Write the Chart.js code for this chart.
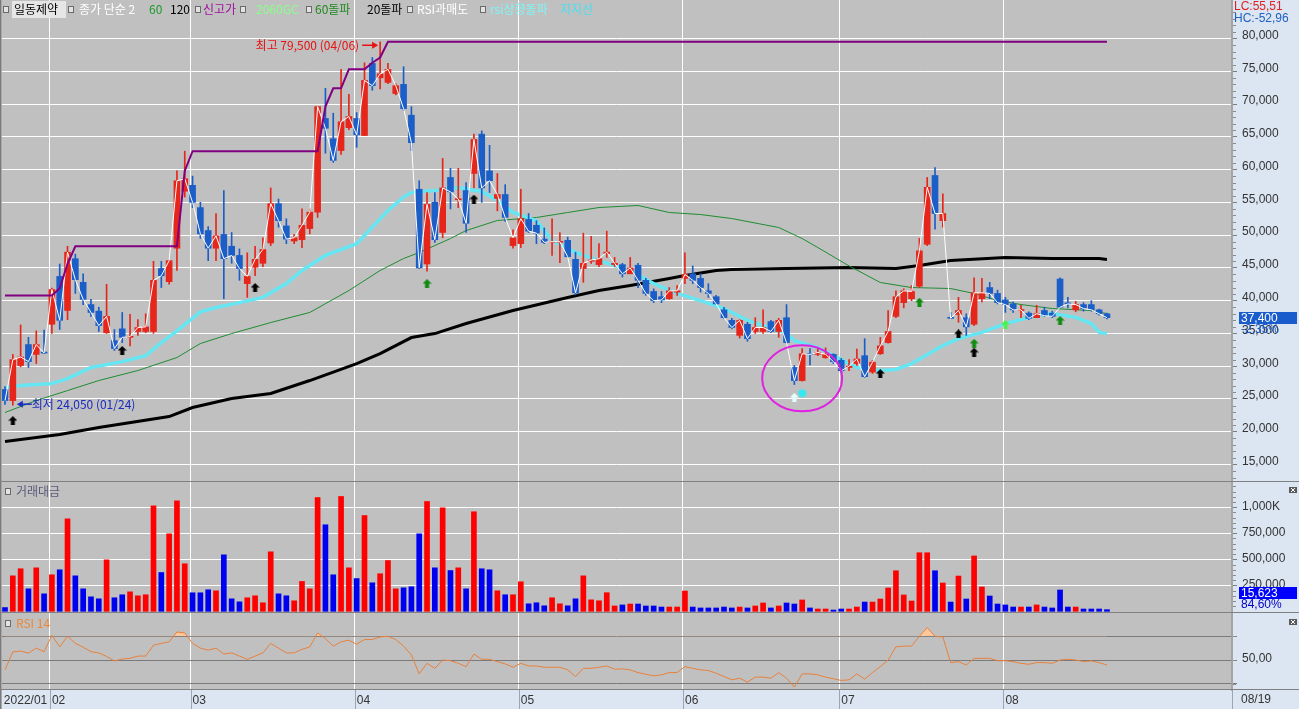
<!DOCTYPE html>
<html><head><meta charset="utf-8"><title>일동제약</title>
<script src="https://cdn.jsdelivr.net/npm/chart.js@4.4.1/dist/chart.umd.min.js"></script>
<style>
html,body{margin:0;padding:0;background:#c0c0c0;overflow:hidden;}
#wrap{position:relative;width:1299px;height:709px;background:#c0c0c0;}
#wrap canvas{position:absolute;left:0;}
</style></head>
<body><div id="wrap">
<canvas id="cPrice" width="1299" height="482" style="top:0px;width:1299px;height:482px"></canvas>
<canvas id="cVol" width="1299" height="131" style="top:482px;width:1299px;height:131px"></canvas>
<canvas id="cRsi" width="1299" height="96" style="top:613px;width:1299px;height:96px"></canvas>
</div>
<script>
// ---------------- DATA ----------------
const monthStartIdx = [0,6,24,45,66,87,107,128];
const monthLabels = ['2022/01','02','03','04','05','06','07','08'];
const lastDateLabel = '08/19';

const opens = [26450,24750,30100,33300,31800,32100,36400,43700,38500,46400,
42800,39400,38400,35100,33900,35700,34400,35300,35300,35300,
44900,42900,48000,56700,57600,54200,50700,48000,50100,48300,
46900,42600,45100,45700,48800,54800,51400,49100,49300,51000,
53500,67800,64700,62900,66400,67800,65200,76200,74000,73300,
71600,73000,68300,57000,45600,55000,50400,58800,55400,56800,
59400,65400,59800,55600,56200,48400,48700,52400,51500,49400,
48900,48900,49200,46300,44900,46000,45500,47200,45500,45500,
44100,45400,43100,41400,40600,40300,41300,43400,44100,43400,
41500,40600,38600,37000,34700,36400,35300,35300,36800,35300,
37400,29800,27800,31900,31800,31300,31800,30900,29800,30400,
31600,29100,31900,33600,37600,39700,40300,42200,48600,59100,
52200,37400,37900,37400,36400,40300,42000,41100,40100,39500,
38500,38100,37400,38500,38100,43300,39600,38600,39400,39400,
38600,38000];
const highs = [26900,31800,36300,34400,35400,35500,41900,45600,48300,47100,
44100,40200,39000,42500,35600,38200,37900,37100,38000,46000,
46000,46200,59800,62800,59000,55000,51300,53300,56800,50400,
47900,47300,48300,49600,57200,55500,52500,50100,54000,54000,
69600,72400,68600,75300,71500,68700,76300,77100,79500,76200,
73100,75700,69600,58300,56500,56500,61700,60200,60200,58000,
65400,65900,63700,59400,57700,50800,57000,53300,52200,51100,
52500,50400,49700,47400,50300,49800,48700,50600,46600,45700,
46600,45700,43400,41800,41400,42000,42300,47300,45300,44100,
42600,40800,39000,37300,37100,36700,37400,38600,37000,37300,
39400,30100,32700,32700,32700,32800,31900,31200,31000,32600,
34200,30900,34400,38500,41500,41800,42300,49500,58800,60300,
56300,38200,40500,38000,43500,43400,42800,41600,40500,39800,
39300,38300,39300,39000,38400,43500,40500,39900,39700,40000,
38700,38100];
const lows = [24150,24050,29900,29800,30400,31900,35000,35600,37100,41100,
39400,37600,35300,35000,32400,33600,33100,34700,35100,35000,
42000,42500,44600,55800,54200,49500,46100,46100,40300,45700,
43100,40500,43800,45200,48400,51200,48700,48700,48100,50200,
52700,62500,61100,62300,66100,63400,65200,72100,72300,73100,
71400,69000,62900,44900,44500,48900,49600,54000,54200,50400,
57200,55000,56500,53700,52100,48000,48100,50400,48700,48700,
46900,45800,46600,40900,42800,45700,45200,46600,45200,43600,
44100,42000,40800,39700,39700,40200,40800,42600,42600,41300,
40500,39500,37300,35700,34300,33800,35000,35000,35100,34400,
33500,27200,27700,30200,31600,31200,30400,29000,29300,30100,
28300,28900,31800,33500,37400,38900,40000,42000,48400,50900,
51200,37300,36700,34700,36200,39800,40300,39500,38200,38200,
37400,37100,37400,37600,37400,38900,38900,38300,38400,38400,
37800,37200];
const closes = [24760,31000,31400,30700,33300,32000,41700,37000,47400,43200,
40200,38200,36200,37600,32700,34400,34500,35900,36000,43100,
43800,46100,58300,58600,55000,50200,48000,49900,46400,46900,
44900,43700,46300,47800,54800,52200,49400,49600,51500,53500,
69600,66300,61400,67300,68100,65300,73600,72800,74600,75300,
72800,69300,64100,45000,54700,49300,57200,56600,55500,51800,
64600,57200,58300,56200,52700,49600,52500,50600,50300,48900,
49000,49000,46700,41200,45700,46200,46400,47400,45700,44100,
45000,43100,41100,40000,40100,41500,41500,44000,43100,42000,
41100,39500,37400,35900,37000,34200,35900,35900,35300,37000,
33600,27800,31900,31800,32100,31800,30700,29300,30000,31100,
28400,30600,33100,35300,40600,41500,41400,47600,57300,53300,
53300,37300,38500,36000,41200,41200,41100,39700,39400,38600,
38600,37300,38000,37700,37600,39000,39500,39400,38800,38600,
38000,37400];
const volumes = [36000,341000,409000,216000,418000,168000,351000,399000,889000,341000,
216000,139000,120000,495000,130000,159000,187000,149000,159000,1014000,
373000,745000,1062000,457000,178000,178000,207000,197000,543000,120000,
91000,130000,149000,82000,572000,168000,149000,101000,287000,216000,
1094000,832000,351000,1104000,418000,315000,921000,274000,361000,488000,
216000,226000,236000,745000,1056000,418000,995000,392000,418000,216000,
957000,409000,399000,197000,159000,159000,284000,72000,82000,53000,
130000,72000,53000,120000,341000,110000,101000,179000,51000,61000,
70000,70000,51000,51000,41000,41000,41000,195000,41000,32000,
32000,32000,41000,32000,41000,32000,51000,80000,32000,51000,
80000,70000,109000,32000,22000,22000,12000,22000,22000,41000,
89000,89000,118000,224000,390000,157000,99000,563000,563000,390000,
272000,89000,339000,118000,532000,234000,147000,70000,61000,41000,
41000,41000,61000,41000,32000,205000,41000,41000,22000,22000,
22000,15623];
const rsi14 = [41.7,56.9,57.5,55.8,60,57,70.8,61,70,64,
60.8,57,56,53,49.2,50.8,51.4,53.3,53.3,62.5,
64,65.3,73.6,72.8,64,60,58.3,60,55,56,
53.3,50.6,53.3,56,64,60,56,56,59,61,
72.8,68,61.7,65.3,66.7,63.3,67.2,67.2,69.4,70,
67.2,61.7,54.2,38.3,47.2,43,50,49.4,47.2,44.4,
55,50.6,50.6,48.6,46.7,43.9,47.2,45,45,43.9,
43.9,43.9,41.7,36.1,43,43,43.9,45,42.2,42.5,
41.7,39.4,38,36.7,37.5,39.4,39.4,44.4,43,41.7,
41.1,38.9,36.1,33.3,34.7,31.4,35.6,35.6,34.7,39.4,
34.7,27.2,38.3,38.3,37.5,35.6,34.2,32.8,33.3,38.3,
33.9,39.4,44.4,50,61.1,61.7,61.7,70,77.2,70,
69.4,47.8,48.6,45.8,51.4,51.4,51.4,49.4,49.4,48.6,
47.2,46.4,47.8,47.8,47.2,50,50.6,50,48.6,49.2,
47.8,45.8];

// indicator lines: [index, price]
const ma120Line = [[0,18500],[7,19570],[12,20640],[21,22320],[24,23690],[29,25060],[34,25830],[39,27810],[45,30400],[48,31930],[52,34370],[55,34980],[59,36510],[65,38490],[72,40470],[76,41540],[80,42310],[85,43380],[87,43840],[91,44600],[93,44750],[100,44900],[108,45050],[114,44900],[117,45360],[121,46120],[128,46580],[134,46430],[140,46430],[141,46270]];
const ma60Line = [[0,22930],[4,24760],[8,26280],[12,27810],[17,29340],[22,31320],[25,33460],[29,34980],[34,36660],[39,38200],[44,41540],[48,44600],[51,46430],[53,47340],[57,49480],[59,50700],[63,52230],[68,52690],[72,53450],[76,54210],[81,54520],[85,53450],[89,53140],[93,52530],[99,51160],[102,49480],[104,48110],[108,45300],[112,42770],[116,42000],[121,41850],[124,41090],[127,40020],[130,39410],[134,38800],[139,38490],[141,38030]];
const supportLine = [[0,26740],[2,27050],[6,27350],[8,28100],[11,29800],[15,30700],[18,31600],[20,33600],[22,35400],[25,38300],[27,38950],[30,39700],[33,40500],[36,42600],[38,44600],[41,46900],[45,48700],[49,53750],[51,55800],[52,56500],[55,56800],[58,57250],[61,56650],[63,55300],[65,53450],[68,52200],[70,49200],[73,47350],[76,46100],[80,44600],[83,42600],[86,41100],[89,40000],[92,38800],[95,37000],[100,35000],[101,33900],[104,32850],[107,31000],[109,29800],[112,29350],[114,29500],[116,30400],[120,33150],[122,34200],[125,35150],[128,36500],[132,37750],[134,38050],[137,37450],[139,36500],[140,35150],[141,35000]];
const newHighLine = [[0,40800],[6,40800],[7,41900],[8,45600],[9,48300],[22,48300],[23,59800],[24,62800],[40,62800],[41,69600],[42,72400],[43,72400],[44,75300],[46,75300],[47,76300],[48,77100],[49,79500],[141,79500]];

// signal markers
const signalIdx   = [1,15,32,60,54,101,102,112,117,122,124,124,128,135];
const signalPrice = [21700,32400,42000,55500,42600,25250,25880,28880,39760,34930,33500,32130,36360,36970];
const signalKind  = ['black','black','black','black','green','white','dot','black','green','black','green','black','lime','green'];

const priceTicks = [15000,20000,25000,30000,35000,40000,45000,50000,55000,60000,65000,70000,75000,80000];
const volTicks = [250000,500000,750000,1000000];
const volTickLabels = ['250,000','500,000','750,000','1,000K'];
const rsiTicks = [30,50,70];
const rsiTickLabels = ['','50,00',''];

const highMark = {idx:48, price:79500, text:'최고 79,500 (04/06)'};
const lowMark  = {idx:1,  price:24050, text:'최저 24,050 (01/24)'};
const circleMark = {idx:102, price:28150};

// ---------------- LAYOUT / STYLE ----------------
const X_MIN = -0.384, X_MAX = 157.0;
const P_MIN = 12330, P_MAX = 85874;
const V_MIN = -16346, V_MAX = 1243269;
const R_MIN = 24.74, R_MAX = 89.58;
const AXIS_W = 67;
const UP = '#e6261a', DOWN = '#1c5ec8';
const NUMFONT = '"Liberation Sans", Arial, sans-serif';
const KFONT = '"Noto Sans CJK KR", "Noto Sans", sans-serif';

const idx = closes.map((_, i) => i);
const isUp = i => closes[i] >= opens[i];
const candleColors = idx.map(i => isUp(i) ? UP : DOWN);
const volColors = idx.map(i => isUp(i) ? '#ff0000' : '#0000f0');
const toPts = arr => arr.map(p => ({x:p[0], y:p[1]}));

function xAxis(showLabels){
  return {
    type:'linear', position:'bottom', min:X_MIN, max:X_MAX, offset:false,
    afterBuildTicks: s => { s.ticks = monthStartIdx.map(v => ({value: v === 0 ? -0.4 : v - 0.25})); },
    afterFit: s => { s.height = showLabels ? 19 : 0; s.paddingLeft = 0; s.paddingRight = 0; },
    grid:{ color: c => (c.index === 0 ? 'rgba(0,0,0,0)' : '#ffffff'), lineWidth:1, drawTicks:false, offset:false },
    border:{display:false},
    ticks:{ display:showLabels, autoSkip:false, maxRotation:0, minRotation:0, align:'start', labelOffset:2, padding:3,
      color:'#333333', font:{family:NUMFONT, size:12}, callback:(v,i) => monthLabels[i] }
  };
}
function yAxis(min, max, ticks, labels, gridColor, labelOffset){
  return {
    type:'linear', position:'right', min, max,
    afterBuildTicks: s => { s.ticks = ticks.map(v => ({value:v})); },
    afterFit: s => { s.width = AXIS_W; s.paddingTop = 0; s.paddingBottom = 0; },
    grid:{ color:gridColor, lineWidth:1, drawTicks:true, tickLength:5, tickColor:'#7c7c7c' },
    border:{ display:true, color:'#a4a4a4', width:2 },
    ticks:{ autoSkip:false, padding:5, labelOffset, color:'#333333', font:{family:NUMFONT, size:12},
      callback:(v,i) => labels[i] }
  };
}

const axisBg = {
  id:'axisBg',
  beforeDraw(chart){
    const {ctx, chartArea:a, width, height} = chart;
    ctx.save();
    ctx.fillStyle = '#dce6f2';
    ctx.fillRect(a.right, 0, width - a.right, height);
    if (height - a.bottom > 1) ctx.fillRect(0, a.bottom, width, height - a.bottom);
    ctx.fillStyle = '#7a7a7a'; ctx.fillRect(0, 0, 1, height);
    ctx.fillStyle = '#a8a8a8'; ctx.fillRect(1, 0, 1, height);
    ctx.restore();
  }
};
function minorTicks(step, major){
  return { id:'minor', afterDraw(chart){
    const s = chart.scales.y, ctx = chart.ctx;
    ctx.save(); ctx.strokeStyle = '#8a8a8a'; ctx.lineWidth = 1;
    for (let v = Math.ceil(s.min/step)*step; v <= s.max; v += step){
      if (Math.abs(v % major) < 1e-6) continue;
      const y = Math.round(s.getPixelForValue(v)) + 0.5;
      ctx.beginPath(); ctx.moveTo(s.left + 1, y); ctx.lineTo(s.left + 4, y); ctx.stroke();
    }
    ctx.restore();
  }};
}
function drawBoxIcon(ctx, x, y){
  ctx.fillStyle = '#e2e2e2'; ctx.fillRect(x, y, 5, 6);
  ctx.strokeStyle = '#6a6a6a'; ctx.lineWidth = 1; ctx.strokeRect(x + 0.5, y + 0.5, 5, 6);
}
function drawCloseIcon(ctx, x, y){
  ctx.fillStyle = '#5a5a5a'; ctx.fillRect(x, y, 8, 6);
  ctx.strokeStyle = '#ffffff'; ctx.lineWidth = 1;
  ctx.beginPath(); ctx.moveTo(x+2, y+1); ctx.lineTo(x+6, y+5); ctx.moveTo(x+6, y+1); ctx.lineTo(x+2, y+5); ctx.stroke();
}
function separator(ctx, y, w){
  ctx.fillStyle = '#808080'; ctx.fillRect(0, y, w, 1);
}

// marker images
function arrowImg(color){
  const c = document.createElement('canvas'); c.width = 9; c.height = 9;
  const g = c.getContext('2d'); g.fillStyle = color;
  g.beginPath(); g.moveTo(4.5,0); g.lineTo(9,4.5); g.lineTo(6.5,4.5); g.lineTo(6.5,9); g.lineTo(2.5,9); g.lineTo(2.5,4.5); g.lineTo(0,4.5); g.closePath(); g.fill();
  return c;
}
function dotImg(color){
  const c = document.createElement('canvas'); c.width = 9; c.height = 9;
  const g = c.getContext('2d'); g.fillStyle = color;
  g.beginPath(); g.arc(4.5,4.5,4,0,Math.PI*2); g.fill();
  return c;
}
const markerStyles = {black:arrowImg('#000000'), green:arrowImg('#118a11'), lime:arrowImg('#4cf04c'), white:arrowImg('#e6ffff'), dot:dotImg('#38e8f0')};

// ---------------- PRICE CHART ----------------
const legendItems = [
  ['box',3], ['일동제약',14,'#000000'], ['box',68], ['종가 단순 2',79,'#ffffff'], ['60',149,'#1a9a2a'], ['120',170,'#000000'],
  ['box',195], ['신고가',203,'#a010a0'], ['box',240], ['2060GC',256,'#88ff88'], ['box',306], ['60돌파',315,'#1e8a1e'],
  ['20돌파',367,'#000000'], ['box',407], ['RSI과매도',417,'#ffffff'], ['box',480], ['rsi상향돌파',490,'#80f4f4'], ['지지선',560,'#4ae0f0']
];
const priceDecor = {
  id:'priceDecor',
  afterDatasetsDraw(chart){
    const {ctx, scales:{x, y}} = chart;
    ctx.save();
    // ellipse
    const cx = x.getPixelForValue(circleMark.idx), cy = y.getPixelForValue(circleMark.price);
    ctx.strokeStyle = '#e020e0'; ctx.lineWidth = 2;
    ctx.beginPath(); ctx.ellipse(cx, cy, 40, 33, 0, 0, Math.PI*2); ctx.stroke();
    // high label
    ctx.font = '12px ' + KFONT; ctx.textBaseline = 'middle';
    let px = x.getPixelForValue(highMark.idx), py = y.getPixelForValue(highMark.price) + 3.5;
    ctx.strokeStyle = '#e81010'; ctx.fillStyle = '#e81010'; ctx.lineWidth = 1.5;
    ctx.beginPath(); ctx.moveTo(px - 18, py); ctx.lineTo(px - 7, py); ctx.stroke();
    ctx.beginPath(); ctx.moveTo(px - 8, py - 3.5); ctx.lineTo(px - 2, py); ctx.lineTo(px - 8, py + 3.5); ctx.closePath(); ctx.fill();
    ctx.textAlign = 'right'; ctx.fillText(highMark.text, px - 21, py);
    // low label
    px = x.getPixelForValue(lowMark.idx); py = y.getPixelForValue(lowMark.price) - 1;
    ctx.strokeStyle = '#1a2cc0'; ctx.fillStyle = '#1a2cc0';
    ctx.beginPath(); ctx.moveTo(px + 9, py); ctx.lineTo(px + 19, py); ctx.stroke();
    ctx.beginPath(); ctx.moveTo(px + 4, py); ctx.lineTo(px + 10, py - 3.5); ctx.lineTo(px + 10, py + 3.5); ctx.closePath(); ctx.fill();
    ctx.textAlign = 'left'; ctx.fillText(lowMark.text, px + 19, py);
    ctx.restore();
  },
  afterDraw(chart){
    const {ctx, scales:{y}, width} = chart;
    ctx.save();
    // legend
    ctx.fillStyle = '#e6e6e6'; ctx.fillRect(12, 1, 54, 17);
    ctx.font = '12px ' + KFONT; ctx.textBaseline = 'middle'; ctx.textAlign = 'left';
    legendItems.forEach(it => {
      if (it[0] === 'box') { drawBoxIcon(ctx, it[1], 6); return; }
      ctx.fillStyle = it[2]; ctx.fillText(it[0], it[1], 9.5);
    });
    // right axis texts
    ctx.font = '12px ' + NUMFONT;
    ctx.fillStyle = '#e02020'; ctx.fillText('LC:55,51', 1234, 7);
    ctx.fillStyle = '#2060c0'; ctx.fillText('HC:-52,96', 1234, 19);
    const last = closes[closes.length - 1];
    const ly = y.getPixelForValue(last);
    ctx.fillStyle = '#1a5ccc'; ctx.fillRect(1239, Math.round(ly) - 6, 58, 12);
    ctx.fillStyle = '#ffffff'; ctx.fillText(last.toLocaleString('en-US'), 1241, ly + 0.5);
    ctx.fillStyle = '#1a5ccc'; ctx.fillText('-2,35%', 1241, ly + 12);
    separator(ctx, 481, width);
    ctx.restore();
  }
};

new Chart(document.getElementById('cPrice'), {
  type:'bar',
  data:{ datasets:[
    { type:'line', data:toPts(ma120Line), borderColor:'#000000', borderWidth:3, pointRadius:0, tension:0, fill:false, order:10 },
    { type:'line', data:toPts(ma60Line), borderColor:'#1e8c32', borderWidth:1, pointRadius:0, tension:0, fill:false, order:9 },
    { type:'line', data:toPts(supportLine), borderColor:'#66e6f2', borderWidth:3.5, pointRadius:0, tension:0, fill:false, order:8 },
    { type:'bar', data:idx.map(i => ({x:i, y:[lows[i], highs[i]]})), backgroundColor:candleColors, barThickness:1, grouped:false, order:6 },
    { type:'bar', data:idx.map(i => ({x:i, y:[opens[i], closes[i]]})), backgroundColor:candleColors, barThickness:6, minBarLength:1, grouped:false, order:5 },
    { type:'line', data:idx.map(i => ({x:i, y:closes[i]})), borderColor:'#ffffff', borderWidth:1, pointRadius:0, tension:0, fill:false, order:4 },
    { type:'line', data:toPts(newHighLine), borderColor:'#800080', borderWidth:2, pointRadius:0, tension:0, fill:false, order:3 },
    { type:'line', data:signalIdx.map((v,i) => ({x:v, y:signalPrice[i]})), showLine:false, pointRadius:4,
      pointStyle:signalKind.map(k => markerStyles[k]), order:0 }
  ]},
  options:{
    responsive:false, animation:false, devicePixelRatio:1, events:[],
    layout:{ padding:{left:2, right:0, top:0, bottom:0}, autoPadding:false },
    plugins:{ legend:{display:false}, tooltip:{enabled:false} },
    scales:{ x:xAxis(false), y:yAxis(P_MIN, P_MAX, priceTicks, priceTicks.map(v => v.toLocaleString('en-US')), '#ffffff', -3) }
  },
  plugins:[axisBg, minorTicks(1000, 5000), priceDecor]
});

// ---------------- VOLUME CHART ----------------
const volDecor = {
  id:'volDecor',
  afterDraw(chart){
    const {ctx, width} = chart;
    ctx.save();
    drawBoxIcon(ctx, 5, 6);
    ctx.font = '12px ' + KFONT; ctx.textBaseline = 'middle'; ctx.textAlign = 'left';
    ctx.fillStyle = '#5a5a7a'; ctx.fillText('거래대금', 16, 9.5);
    drawCloseIcon(ctx, 1289, 5);
    ctx.font = '12px ' + NUMFONT;
    const last = volumes[volumes.length - 1];
    ctx.fillStyle = '#0000ff'; ctx.fillRect(1239, 105, 58, 12);
    ctx.fillStyle = '#ffffff'; ctx.fillText(last.toLocaleString('en-US'), 1241, 111.5);
    ctx.fillStyle = '#0000c8'; ctx.fillText('84,60%', 1241, 123);
    separator(ctx, 130, width);
    ctx.restore();
  }
};
new Chart(document.getElementById('cVol'), {
  type:'bar',
  data:{ datasets:[
    { data:idx.map(i => ({x:i, y:volumes[i]})), backgroundColor:volColors, barThickness:5, grouped:false }
  ]},
  options:{
    responsive:false, animation:false, devicePixelRatio:1, events:[],
    layout:{ padding:{left:2, right:0, top:0, bottom:0}, autoPadding:false },
    plugins:{ legend:{display:false}, tooltip:{enabled:false} },
    scales:{ x:xAxis(false), y:yAxis(V_MIN, V_MAX, volTicks, volTickLabels, '#ffffff', -1) }
  },
  plugins:[axisBg, minorTicks(50000, 250000), volDecor]
});

// ---------------- RSI CHART ----------------
const rsiDecor = {
  id:'rsiDecor',
  afterDraw(chart){
    const {ctx, chartArea:a, width, height, scales:{x}} = chart;
    ctx.save();
    drawBoxIcon(ctx, 5, 7);
    ctx.font = '12px ' + KFONT; ctx.textBaseline = 'middle'; ctx.textAlign = 'left';
    ctx.fillStyle = '#e8883c'; ctx.fillText('RSI 14', 16, 10);
    drawCloseIcon(ctx, 1289, 6);
    // date strip separators
    ctx.fillStyle = '#9aa6b6';
    x.ticks.forEach((t, i) => { if (i > 0) ctx.fillRect(Math.round(x.getPixelForValue(t.value)), a.bottom, 1, height - a.bottom); });
    ctx.fillRect(a.right, a.bottom, 1, height - a.bottom);
    ctx.fillStyle = '#333333'; ctx.font = '12px ' + NUMFONT;
    ctx.fillText(lastDateLabel, a.right + 9, a.bottom + 9.5);
    separator(ctx, a.bottom - 1, width);
    ctx.restore();
  }
};
new Chart(document.getElementById('cRsi'), {
  type:'line',
  data:{ datasets:[
    { data:idx.map(i => ({x:i, y:rsi14[i]})), borderColor:'#e8803a', borderWidth:1, pointRadius:0, tension:0,
      fill:{ target:{value:70}, above:'#ffc89a', below:'rgba(0,0,0,0)' } }
  ]},
  options:{
    responsive:false, animation:false, devicePixelRatio:1, events:[],
    layout:{ padding:{left:2, right:0, top:0, bottom:0}, autoPadding:false },
    plugins:{ legend:{display:false}, tooltip:{enabled:false} },
    scales:{ x:xAxis(true), y:yAxis(R_MIN, R_MAX, rsiTicks, rsiTickLabels, '#7a7a7a', -1) }
  },
  plugins:[axisBg, minorTicks(10, 20), rsiDecor]
});
</script></body></html>
